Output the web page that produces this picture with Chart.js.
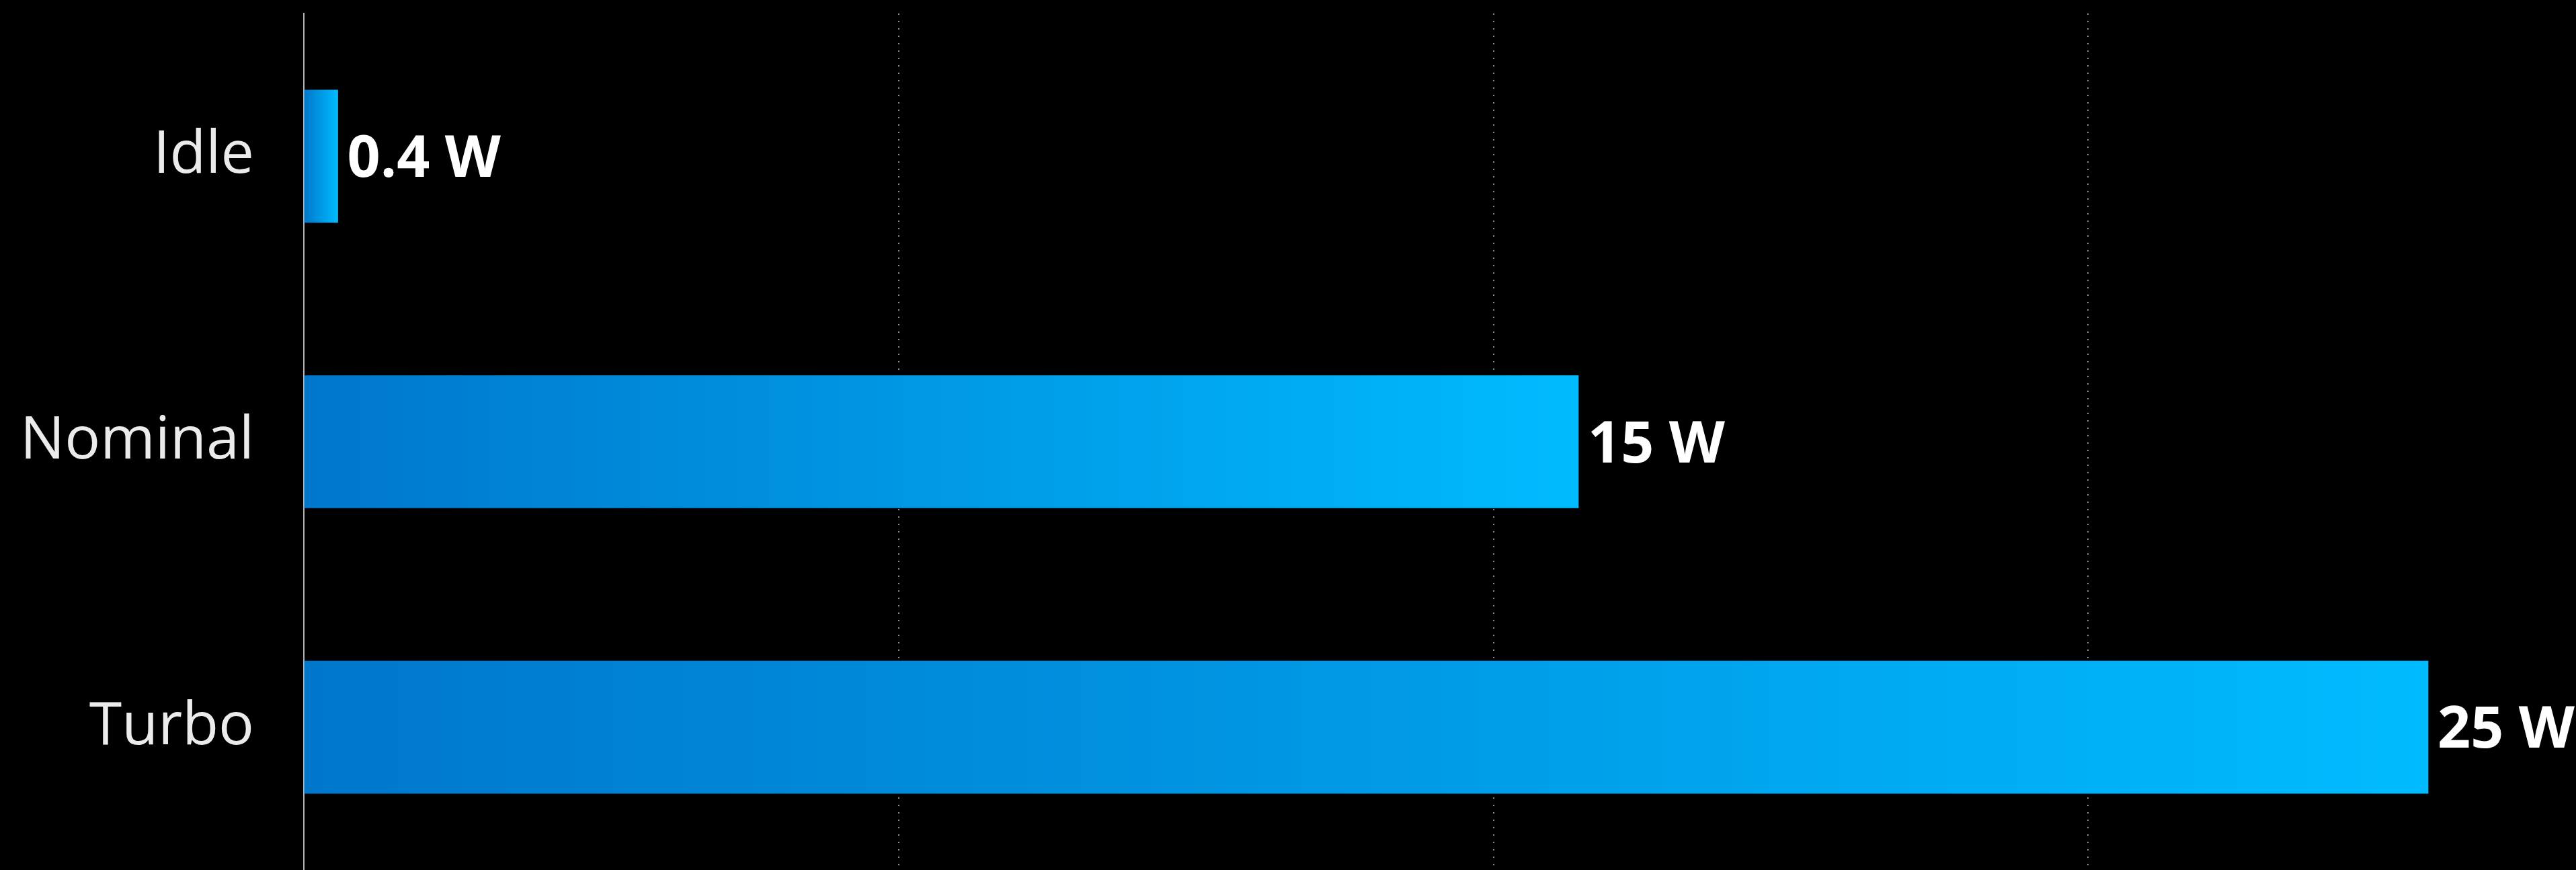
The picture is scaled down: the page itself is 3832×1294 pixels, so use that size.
<!DOCTYPE html>
<html>
<head>
<meta charset="utf-8">
<script src="https://cdn.jsdelivr.net/npm/chart.js@4"></script>
<style>
    html, body { margin: 0; padding: 0; background: #000; }
    #marco { width: 3832px; height: 1294px; position: relative; }
</style>
</head>
<body>
<div id="marco"><canvas id="graficaPotencia"></canvas></div>
<script>
"use strict";
/* DATOS */
const categorias = ["Idle", "Nominal", "Turbo"];
const vatios = [0.4, 15, 25];
const lineasGuia = [0, 7, 14, 21];
const unidad = " W";

/* DEGRADADO POR BARRA */
function degradadoBarra(contexto) {
    const grafica = contexto.chart;
    if (!grafica.chartArea || contexto.raw === undefined)
        return "#0096e0";
    const escalaX = grafica.scales.x;
    const x0 = escalaX.getPixelForValue(0);
    const x1 = escalaX.getPixelForValue(contexto.raw);
    const degradado = grafica.ctx.createLinearGradient(x0, 0, x1, 0);
    degradado.addColorStop(0, "#0077cb");
    degradado.addColorStop(1, "#00bbff");
    return degradado;
}

/* ETIQUETAS DE VALOR */
const etiquetasValor = {
    id: "etiquetasValor",
    afterDatasetsDraw(grafica) {
        const ctx = grafica.ctx;
        const meta = grafica.getDatasetMeta(0);
        const tam = 86;
        ctx.save();
        ctx.fillStyle = "#ffffff";
        ctx.font = "bold " + tam + "px 'Open Sans', sans-serif";
        ctx.textAlign = "left";
        ctx.textBaseline = "alphabetic";
        meta.data.forEach((barra, i) => {
            ctx.fillText(vatios[i] + unidad, barra.x + 14, barra.y + tam * 0.357);
        });
        ctx.restore();
    }
};

/* GRÁFICA */
new Chart(document.getElementById("graficaPotencia"), {
    type: "bar",
    data: {
        labels: categorias,
        datasets: [
            {
                data: vatios,
                backgroundColor: degradadoBarra,
                borderWidth: 0,
                barThickness: 197
            }
        ]
    },
    options: {
        indexAxis: "y",
        responsive: true,
        maintainAspectRatio: false,
        animation: false,
        layout: { padding: { top: 20, left: 0, right: 0, bottom: 0 } },
        plugins: {
            legend: { display: false },
            tooltip: { enabled: false }
        },
        scales: {
            x: {
                min: 0,
                max: 26.74,
                afterBuildTicks: escala => {
                    escala.ticks = lineasGuia.map(v => ({ value: v }));
                },
                afterFit: escala => {
                    escala.height = 0;
                    escala.paddingLeft = 0;
                    escala.paddingRight = 0;
                },
                ticks: { display: false },
                border: { display: false, dash: [2, 9] },
                grid: {
                    drawTicks: false,
                    color: c => c.tick && c.tick.value === 0 ? "rgba(0,0,0,0)" : "#8c8c8c",
                    lineWidth: 2
                }
            },
            y: {
                afterFit: escala => {
                    escala.width = 452;
                    escala.paddingTop = 0;
                    escala.paddingBottom = 0;
                },
                grid: { display: false, drawTicks: false },
                border: { display: true, color: "#b4b4b4", width: 2 },
                ticks: {
                    color: "#ebebeb",
                    padding: 74,
                    font: { family: "'Open Sans', sans-serif", size: 88 }
                }
            }
        }
    },
    plugins: [etiquetasValor]
});
</script>
</body>
</html>
